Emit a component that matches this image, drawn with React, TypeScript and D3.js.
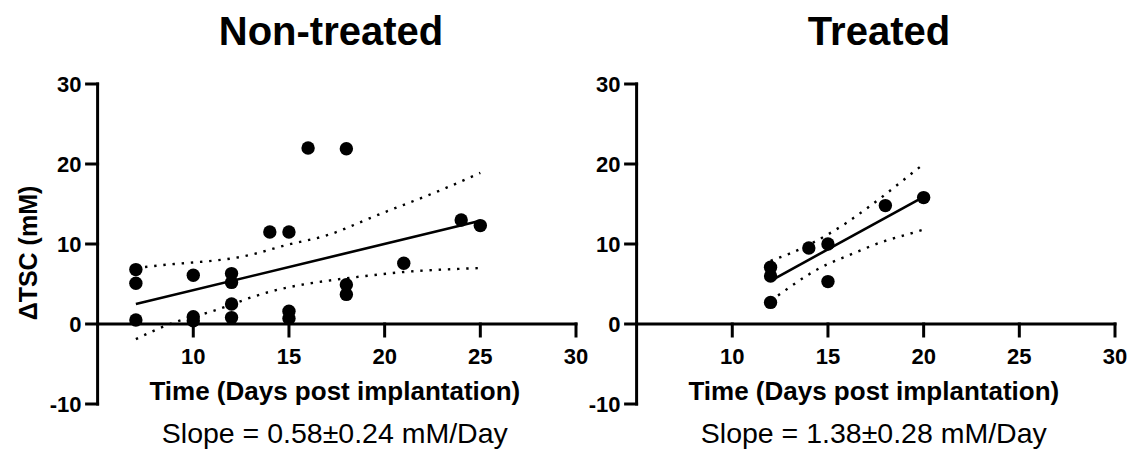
import React from "react";
import * as d3 from "d3";

// ---------- data ----------
const yTicks = [-10, 0, 10, 20, 30];
const xTicks = [10, 15, 20, 25, 30];

const ntDays = [7, 7, 7, 10, 10, 10, 12, 12, 12, 12, 14, 15, 15, 15, 16, 18, 18, 18, 21, 24, 25];
const ntTSC = [6.8, 5.1, 0.5, 6.1, 0.9, 0.4, 6.3, 5.2, 2.5, 0.8, 11.5, 11.5, 1.6, 0.7, 22.0, 21.9, 4.9, 3.7, 7.6, 13.0, 12.3];
const ntFitDays = [7, 25];
const ntFitTSC = [2.5, 12.9];
const ntBandDays = [7, 9, 11, 13, 15, 17, 19, 21, 23, 25];
const ntUpper = [7.0, 7.5, 7.9, 8.65, 9.95, 11.1, 13.0, 14.9, 16.8, 18.9];
const ntLower = [-1.9, 0.2, 1.6, 3.3, 4.6, 5.4, 6.0, 6.5, 6.8, 7.0];

const trDays = [12, 12, 12, 14, 15, 15, 18, 20];
const trTSC = [7.1, 6.0, 2.7, 9.5, 10.0, 5.3, 14.8, 15.8];
const trFitDays = [12, 20];
const trFitTSC = [5.4, 15.9];
const trBandDays = [12, 13, 14, 15, 16, 17, 18, 19, 20];
const trUpper = [7.9, 8.8, 9.9, 11.2, 12.7, 14.4, 16.2, 18.1, 20.0];
const trLower = [2.9, 4.6, 6.2, 7.5, 8.5, 9.5, 10.4, 11.1, 11.8];

const titles = ["Non-treated", "Treated"];
const slopes = ["Slope = 0.58\u00b10.24 mM/Day", "Slope = 1.38\u00b10.28 mM/Day"];
const xTitle = "Time (Days post implantation)";
const yTitle = "\u0394TSC (mM)";

const FONT = "'Liberation Sans', Arial, Helvetica, sans-serif";

type PanelProps = {
  x0: number;
  x1: number;
  days: number[];
  tsc: number[];
  fitDays: number[];
  fitTSC: number[];
  bandDays: number[];
  upper: number[];
  lower: number[];
  title: string;
  titleX: number;
  slope: string;
  showYTitle: boolean;
};

const y = d3.scaleLinear().domain([-10, 30]).range([404, 84]);

function Panel(p: PanelProps) {
  const x = d3.scaleLinear().domain([5, 30]).range([p.x0, p.x1]);
  const lineGen = d3
    .line<[number, number]>()
    .x((d) => x(d[0]))
    .y((d) => y(d[1]));
  const curveGen = d3
    .line<[number, number]>()
    .x((d) => x(d[0]))
    .y((d) => y(d[1]))
    .curve(d3.curveNatural);
  const fit = p.fitDays.map((d, i) => [d, p.fitTSC[i]] as [number, number]);
  const up = p.bandDays.map((d, i) => [d, p.upper[i]] as [number, number]);
  const lo = p.bandDays.map((d, i) => [d, p.lower[i]] as [number, number]);
  const ax = x(5);
  const cx = (x(5) + x(30)) / 2;
  return (
    <g fontFamily={FONT}>
      <text x={p.titleX} y={45} textAnchor="middle" fontSize={40} fontWeight="bold">
        {p.title}
      </text>
      {/* y axis */}
      <line x1={ax} x2={ax} y1={y(-10)} y2={y(30)} stroke="#000" strokeWidth={3} strokeLinecap="square" />
      {yTicks.map((t) => (
        <g key={t}>
          <line x1={ax - 11} x2={ax} y1={y(t)} y2={y(t)} stroke="#000" strokeWidth={3} strokeLinecap="square" />
          <text x={ax - 16} y={y(t)} dy="0.36em" textAnchor="end" fontSize={22} fontWeight="bold">
            {t}
          </text>
        </g>
      ))}
      {/* x axis */}
      <line x1={ax} x2={x(30)} y1={y(0)} y2={y(0)} stroke="#000" strokeWidth={3} strokeLinecap="square" />
      {xTicks.map((t) => (
        <g key={t}>
          <line x1={x(t)} x2={x(t)} y1={y(0)} y2={y(0) + 12} stroke="#000" strokeWidth={3} strokeLinecap="square" />
          <text x={x(t)} y={364} textAnchor="middle" fontSize={22} fontWeight="bold">
            {t}
          </text>
        </g>
      ))}
      <text x={cx - 2} y={400} textAnchor="middle" fontSize={26} fontWeight="bold">
        {xTitle}
      </text>
      <text x={cx - 2} y={443} textAnchor="middle" fontSize={28.5}>
        {p.slope}
      </text>
      {p.showYTitle && (
        <text
          transform={`translate(37,253) rotate(-90)`}
          textAnchor="middle"
          fontSize={25}
          fontWeight="bold"
        >
          {yTitle}
        </text>
      )}
      {/* confidence bands */}
      <path d={curveGen(up) || ""} fill="none" stroke="#000" strokeWidth={2.4} strokeDasharray="2.4 6.8" />
      <path d={curveGen(lo) || ""} fill="none" stroke="#000" strokeWidth={2.4} strokeDasharray="2.4 6.8" />
      {/* fit */}
      <path d={lineGen(fit) || ""} fill="none" stroke="#000" strokeWidth={2.6} />
      {/* points */}
      {p.days.map((d, i) => (
        <circle key={i} cx={x(d)} cy={y(p.tsc[i])} r={6.7} fill="#000" />
      ))}
    </g>
  );
}

export default function App() {
  return (
    <svg
      width={1131}
      height={450}
      viewBox="0 0 1131 450"
      style={{ position: "absolute", left: 0, top: 0, background: "#fff" }}
    >
      <rect width={1131} height={450} fill="#fff" />
      <Panel
        x0={97.6}
        x1={576}
        days={ntDays}
        tsc={ntTSC}
        fitDays={ntFitDays}
        fitTSC={ntFitTSC}
        bandDays={ntBandDays}
        upper={ntUpper}
        lower={ntLower}
        title={titles[0]}
        titleX={331}
        slope={slopes[0]}
        showYTitle={true}
      />
      <Panel
        x0={636.6}
        x1={1115}
        days={trDays}
        tsc={trTSC}
        fitDays={trFitDays}
        fitTSC={trFitTSC}
        bandDays={trBandDays}
        upper={trUpper}
        lower={trLower}
        title={titles[1]}
        titleX={879}
        slope={slopes[1]}
        showYTitle={false}
      />
    </svg>
  );
}
